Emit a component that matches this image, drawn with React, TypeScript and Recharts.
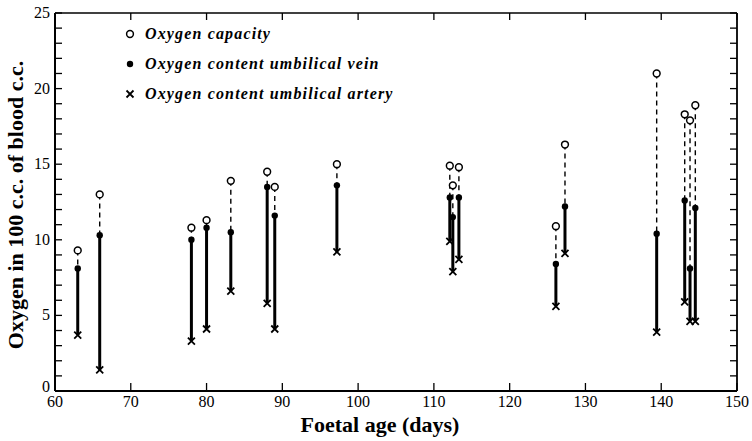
import React from "react"
import { ComposedChart, Line, Scatter, XAxis, YAxis, Legend } from "recharts"

// foetal age (days) for each lamb
const ages = [63, 65.9, 78, 80, 83.2, 88, 89, 97.2, 112.1, 112.5, 113.3, 126.1, 127.3, 139.4, 143.1, 143.8, 144.5]
// oxygen in 100 c.c. of blood (c.c.)
const capacity = [9.3, 13.0, 10.8, 11.3, 13.9, 14.5, 13.5, 15.0, 14.9, 13.6, 14.8, 10.9, 16.3, 21.0, 18.3, 17.9, 18.9]
const vein = [8.1, 10.3, 10.0, 10.8, 10.5, 13.5, 11.6, 13.6, 12.8, 11.5, 12.8, 8.4, 12.2, 10.4, 12.6, 8.1, 12.1]
const artery = [3.7, 1.4, 3.3, 4.1, 6.6, 5.8, 4.1, 9.2, 9.9, 7.9, 8.7, 5.6, 9.1, 3.9, 5.9, 4.6, 4.6]

const xTicks = [60, 70, 80, 90, 100, 110, 120, 130, 140, 150]
const yTicks = Array.from({ length: 26 }, (_, i) => i)

const legendLabels = ["Oxygen capacity", "Oxygen content umbilical vein", "Oxygen content umbilical artery"]

const serif = "'Liberation Serif', 'Times New Roman', serif"

const capData = ages.map((x, i) => ({ x, y: capacity[i] }))
const veinData = ages.map((x, i) => ({ x, y: vein[i] }))
const arteryData = ages.map((x, i) => ({ x, y: artery[i] }))

const OpenCircle = (p: any) => (
  <circle cx={p.cx} cy={p.cy} r={3.4} fill="#fff" stroke="#000" strokeWidth={1.5} />
)
const Dot = (p: any) => <circle cx={p.cx} cy={p.cy} r={3.2} fill="#000" />
const Cross = (p: any) => (
  <path
    d={`M${p.cx - 3.5},${p.cy - 3.5}L${p.cx + 3.5},${p.cy + 3.5}M${p.cx - 3.5},${p.cy + 3.5}L${p.cx + 3.5},${p.cy - 3.5}`}
    stroke="#000"
    strokeWidth={1.8}
  />
)

const LeftTick = (p: any) => {
  const v = p.payload.value
  return (
    <g>
      <line x1={p.x} x2={p.x + 7} y1={p.y} y2={p.y} stroke="#000" strokeWidth={1.3} />
      {v % 5 === 0 && (
        <text x={p.x - 5} y={p.y + 5 - (v === 0 ? 4 : 0)} textAnchor="end" fontSize={16} fontFamily={serif} fill="#000">
          {v}
        </text>
      )}
    </g>
  )
}

const RightTick = (p: any) => (
  <line x1={p.x} x2={p.x - 7} y1={p.y} y2={p.y} stroke="#000" strokeWidth={1.3} />
)

const BottomTick = (p: any) => (
  <g>
    <line x1={p.x} x2={p.x} y1={p.y} y2={p.y - 8} stroke="#000" strokeWidth={1.3} />
    <text x={p.x} y={p.y + 16} textAnchor="middle" fontSize={16} fontFamily={serif} fill="#000">
      {p.payload.value}
    </text>
  </g>
)

const TopTick = (p: any) => (
  <line x1={p.x} x2={p.x} y1={p.y} y2={p.y + 7} stroke="#000" strokeWidth={1.3} />
)

const LegendBox = () => (
  <div style={{ fontFamily: serif, fontStyle: "italic", fontWeight: "bold", fontSize: 16, letterSpacing: 1.15, lineHeight: "30px" }}>
    {legendLabels.map((t, i) => (
      <div key={t} style={{ display: "flex", alignItems: "center" }}>
        <svg width={14} height={14} style={{ marginRight: 6 }}>
          {i === 0 && <OpenCircle cx={5} cy={7} />}
          {i === 1 && <Dot cx={5} cy={7} />}
          {i === 2 && <Cross cx={5} cy={7} />}
        </svg>
        <span>{t}</span>
      </div>
    ))}
  </div>
)

export default function App() {
  return (
    <div style={{ position: "absolute", left: 0, top: 0, background: "#fff" }}>
      <ComposedChart width={752} height={441} margin={{ top: 0, right: 0, bottom: 0, left: 0 }}>
        <XAxis
          xAxisId="b"
          dataKey="x"
          type="number"
          domain={[60, 150]}
          ticks={xTicks}
          orientation="bottom"
          height={50}
          tickSize={0}
          tickMargin={0}
          tickLine={false}
          axisLine={{ stroke: "#000", strokeWidth: 2 }}
          tick={<BottomTick />}
          interval={0}
          allowDataOverflow
          label={{
            content: (lp: any) => {
              const vb = lp.viewBox
              return (
                <text x={vb.x + vb.width / 2 - 16} y={vb.y + 41} textAnchor="middle" fontSize={22} fontWeight="bold" fontFamily={serif} fill="#000">
                  Foetal age (days)
                </text>
              )
            },
          }}
        />
        <XAxis
          xAxisId="t"
          dataKey="x"
          type="number"
          domain={[60, 150]}
          ticks={xTicks}
          orientation="top"
          height={13}
          tickSize={0}
          tickMargin={0}
          tickLine={false}
          axisLine={{ stroke: "#000", strokeWidth: 1.5 }}
          tick={<TopTick />}
          interval={0}
          allowDataOverflow
        />
        <YAxis
          yAxisId="l"
          dataKey="y"
          type="number"
          domain={[0, 25]}
          ticks={yTicks}
          orientation="left"
          width={55}
          tickSize={0}
          tickMargin={0}
          tickLine={false}
          axisLine={{ stroke: "#000", strokeWidth: 2 }}
          tick={<LeftTick />}
          interval={0}
          allowDataOverflow
          label={{
            content: (lp: any) => {
              const vb = lp.viewBox
              const cx = 23
              const cy = vb.y + vb.height / 2 + 3
              return (
                <text x={cx} y={cy} transform={`rotate(-90 ${cx} ${cy})`} textAnchor="middle" fontSize={22} fontWeight="bold" fontFamily={serif} fill="#000">
                  Oxygen in 100 c.c. of blood c.c.
                </text>
              )
            },
          }}
        />
        <YAxis
          yAxisId="r"
          dataKey="y"
          type="number"
          domain={[0, 25]}
          ticks={yTicks}
          orientation="right"
          width={15}
          tickSize={0}
          tickMargin={0}
          tickLine={false}
          axisLine={{ stroke: "#000", strokeWidth: 1.8 }}
          tick={<RightTick />}
          interval={0}
          allowDataOverflow
        />
        {ages.map((a, i) => (
          <Line
            key={"d" + i}
            xAxisId="b"
            yAxisId="l"
            data={[capData[i], veinData[i]]}
            dataKey="y"
            stroke="#000"
            strokeWidth={1.4}
            strokeDasharray="5 4"
            dot={false}
            activeDot={false}
            isAnimationActive={false}
            legendType="none"
          />
        ))}
        {ages.map((a, i) => (
          <Line
            key={"s" + i}
            xAxisId="b"
            yAxisId="l"
            data={[veinData[i], arteryData[i]]}
            dataKey="y"
            stroke="#000"
            strokeWidth={3}
            dot={false}
            activeDot={false}
            isAnimationActive={false}
            legendType="none"
          />
        ))}
        <Scatter xAxisId="b" yAxisId="l" data={arteryData} shape={<Cross />} isAnimationActive={false} />
        <Scatter xAxisId="b" yAxisId="l" data={veinData} shape={<Dot />} isAnimationActive={false} />
        <Scatter xAxisId="b" yAxisId="l" data={capData} shape={<OpenCircle />} isAnimationActive={false} />
        <Legend
          layout="horizontal"
          verticalAlign="middle"
          align="center"
          wrapperStyle={{ left: 125, top: 19, width: "auto", height: "auto" }}
          content={<LegendBox />}
        />
      </ComposedChart>
    </div>
  )
}
